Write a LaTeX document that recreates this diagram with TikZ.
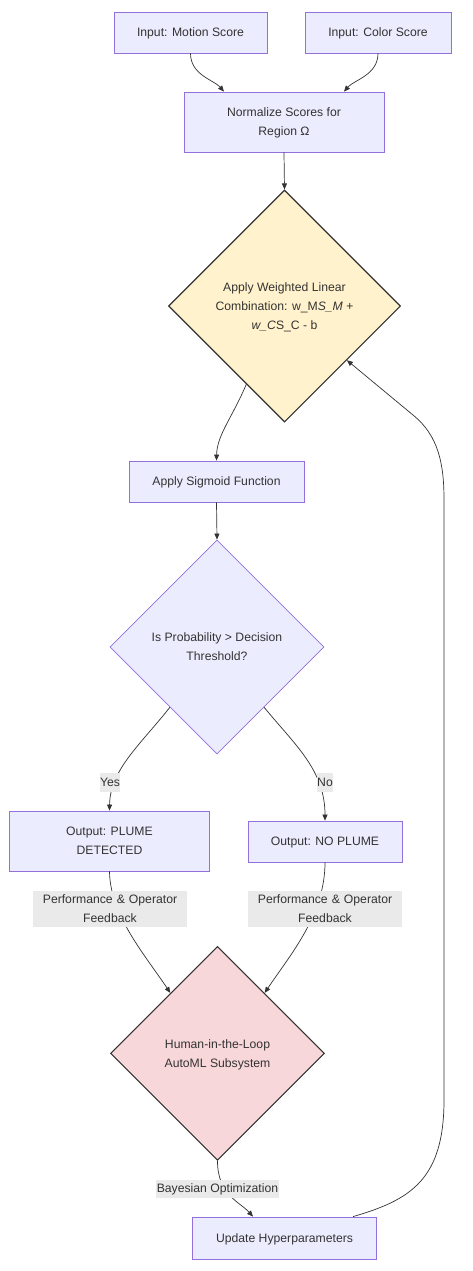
\documentclass[tikz,border=0pt]{standalone}
\usepackage{fontspec}
\setmainfont{Liberation Sans}
\usetikzlibrary{shapes.geometric,arrows.meta}
\definecolor{boxfill}{HTML}{ECECFF}
\definecolor{boxline}{HTML}{9370DB}
\definecolor{txt}{HTML}{333333}
\definecolor{yel}{HTML}{FFF2CC}
\definecolor{pnk}{HTML}{F8D7DA}
\definecolor{lblbg}{HTML}{EAEAEA}
\begin{document}
\begin{tikzpicture}[x=1pt,y=-1pt,
  font=\fontsize{12.2}{19}\selectfont, text=txt,
  box/.style={draw=boxline,fill=boxfill,line width=0.8pt,align=center,inner sep=0pt,text depth=0pt},
  dia/.style={diamond,aspect=1,inner sep=0pt,align=center,text depth=0pt},
  lbl/.style={fill=lblbg,inner sep=0pt,align=center},
  conn/.style={draw=txt,line width=0.7pt,-{Triangle[length=6pt,width=5pt]}}]
\useasboundingbox[fill=white] (0,0) rectangle (472,1271);

% nodes
\node[box,minimum width=153pt,minimum height=41pt] (a) at (190.5,32.5) {Input: Motion Score};
\node[box,minimum width=146pt,minimum height=41pt] (b) at (378,32.5) {Input: Color Score};
\node[box,minimum width=200pt,minimum height=60pt] (c) at (284,122) {Normalize Scores for\\Region Ω};
\node[dia,draw=txt,line width=1.1pt,fill=yel,minimum width=232pt,minimum height=232pt] (d1) at (284.5,306)
  {Apply Weighted Linear\\Combination: w\_M\textit{S\_M +}\\\textit{w\_C}S\_C - b};
\node[box,minimum width=175pt,minimum height=41pt] (e) at (216.5,481.5) {Apply Sigmoid Function};
\node[dia,draw=boxline,line width=0.8pt,fill=boxfill,minimum width=214pt,minimum height=214pt] (d2) at (217,647)
  {Is Probability > Decision\\Threshold?};
\node[box,minimum width=200pt,minimum height=60pt] (f) at (109.5,841) {Output: PLUME\\DETECTED};
\node[box,minimum width=154pt,minimum height=41pt] (g) at (325,841.5) {Output: NO PLUME};
\node[dia,draw=txt,line width=1.1pt,fill=pnk,minimum width=214pt,minimum height=214pt] (d3) at (217.5,1053.3)
  {Human-in-the-Loop\\AutoML Subsystem};
\node[box,minimum width=184pt,minimum height=42pt] (h) at (284.5,1238) {Update Hyperparameters};

% connectors
\draw[conn] (a.south) .. controls (190.5,75) and (214,80) .. ([xshift=-60pt]c.north);
\draw[conn] (b.south) .. controls (378,75) and (354,80) .. ([xshift=60pt]c.north);
\draw[conn] (c.south) -- (d1.north);
\draw[conn] (d1.244) .. controls (232,418) and (217,435) .. (e.north);
\draw[conn] (e.south) -- (d2.north);
\draw[conn] (d2.232) .. controls (140,745) and (110,770) .. (f.north);
\draw[conn] (d2.-52) .. controls (295,745) and (325,770) .. (g.north);
\draw[conn] (f.south) .. controls (110,915) and (145,955) .. (d3.128);
\draw[conn] (g.south) .. controls (325,915) and (290,955) .. (d3.52);
\draw[conn] (d3.south) .. controls (217.5,1195) and (240,1202) .. ([xshift=-31.5pt]h.north);
\draw[conn] ([xshift=68.5pt]h.north) .. controls (410,1200) and (444,1180) .. (444,1100)
  -- (444,500) .. controls (444,465) and (439,436) .. (413,415) -- (d1.-41);

% edge labels
\node[lbl,minimum height=19pt] (ly) at (110,782) {Yes};
\node[lbl,minimum height=19pt] (ln) at (325,782) {No};
\node[lbl,text width=154pt,minimum height=36pt] (lp1) at (110,909) {Performance \& Operator\\Feedback};
\node[lbl,text width=154pt,minimum height=36pt] (lp2) at (325,909) {Performance \& Operator\\Feedback};
\node[lbl,inner xsep=1pt,minimum height=18pt] (lb) at (217.5,1189) {Bayesian Optimization};
\end{tikzpicture}
\end{document}
